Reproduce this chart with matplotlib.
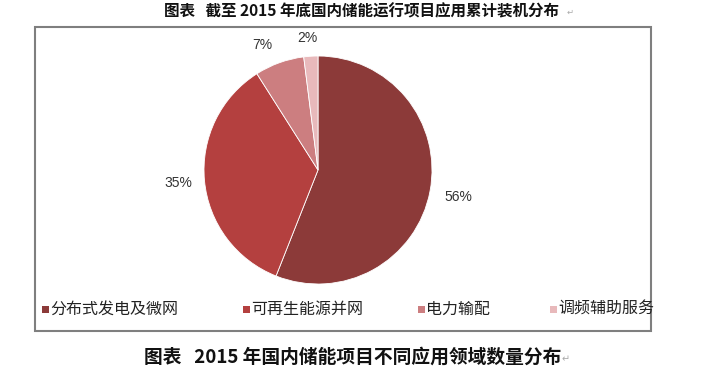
import matplotlib
matplotlib.use("Agg")
import numpy as np
import matplotlib.pyplot as plt
from matplotlib.patches import Rectangle

# ---- data ----
categories = ["分布式发电及微网", "可再生能源并网", "电力输配", "调频辅助服务"]
shares = [56, 35, 7, 2]
colors = ["#8C3A39", "#B4403F", "#CC7E80", "#E8B9BB"]
title_top = "图表   截至 2015 年底国内储能运行项目应用累计装机分布"
title_bottom = "图表   2015 年国内储能项目不同应用领域数量分布"

plt.rcParams['font.family'] = ['Noto Sans CJK SC', 'DejaVu Sans']

W, H = 709, 378
fig = plt.figure(figsize=(W / 100, H / 100), dpi=100)
fig.patch.set_facecolor("white")

def fx(px):
    return px / W

def fy(py):
    return 1 - py / H

# frame box
fig.patches.append(Rectangle((fx(35), fy(331)), fx(651) - fx(35), fy(27) - fy(331),
                             transform=fig.transFigure, fill=False,
                             edgecolor="#7f7f7f", linewidth=1.5))

# pie axes: center (318,170), radius 114 px
cx, cy, r = 318, 170, 114
ax = fig.add_axes([fx(cx - r), fy(cy + r), 2 * r / W, 2 * r / H])
wedges, texts, autotexts = ax.pie(
    shares, colors=colors, startangle=90, counterclock=False,
    autopct=lambda p: f"{round(p):d}%", pctdistance=1.23,
    wedgeprops=dict(edgecolor="white", linewidth=0.6),
    textprops=dict(fontsize=10, color="#333333", family=["Liberation Sans", "DejaVu Sans"]))
# per-label distances from the centre (layout)
label_dist = [1.25, 1.23, 1.2, 1.16]
label_shift = [0, 0, 4, 1]  # extra angular shift in degrees
for w, t, d, s in zip(wedges, autotexts, label_dist, label_shift):
    ang = np.deg2rad((w.theta1 + w.theta2) / 2 + s)
    t.set_position((d * np.cos(ang), d * np.sin(ang)))
ax.set_xlim(-1, 1)
ax.set_ylim(-1, 1)
ax.set_aspect("auto")
ax.axis("off")

# legend (manual placement)
leg_x = [42, 243, 418, 550]
leg_y = 309
for x, lab, col in zip(leg_x, categories, colors):
    fig.patches.append(Rectangle((fx(x), fy(leg_y + 4)), 7 / W, 7 / H,
                                 transform=fig.transFigure, facecolor=col, edgecolor="none"))
    fig.text(fx(x + 8), fy(leg_y), lab, fontsize=11.5, color="#222222",
             ha="left", va="center")

# titles
fig.text(fx(362), fy(11), title_top, fontsize=11.2, fontweight="bold",
         ha="center", va="center", color="#111111")
fig.text(fx(567), fy(12), "↵", fontsize=6, color="#aaaaaa", ha="left", va="center",
         family=["DejaVu Sans"])
fig.text(fx(353), fy(357), title_bottom, fontsize=13.5, fontweight="bold",
         ha="center", va="center", color="#111111")
fig.text(fx(562), fy(359), "↵", fontsize=7, color="#aaaaaa", ha="left", va="center",
         family=["DejaVu Sans"])

fig.savefig("out.png", dpi=100, facecolor="white")
